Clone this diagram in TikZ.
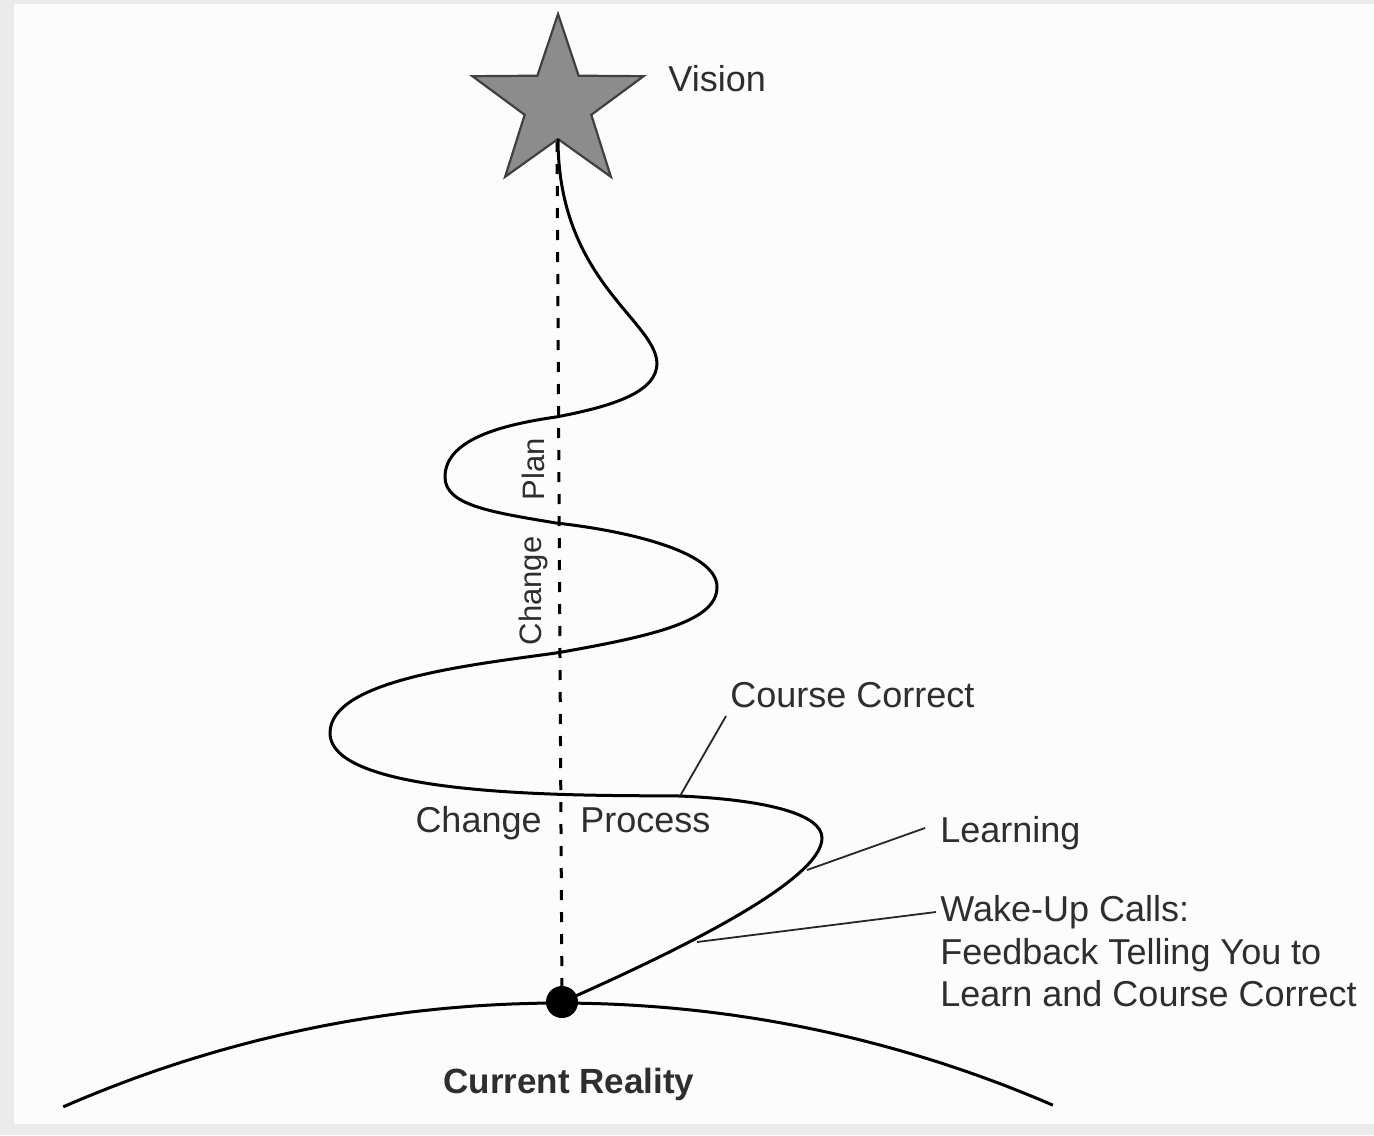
\documentclass[tikz,border=0pt]{standalone}
\usepackage{fontspec}
\setmainfont{Liberation Sans}
\definecolor{pagegray}{HTML}{EBEBEB}
\definecolor{paper}{HTML}{FCFCFD}
\definecolor{inkt}{HTML}{2E2E2E}
\definecolor{stargray}{HTML}{8C8C8C}
\begin{document}
\begin{tikzpicture}[x=0.5pt,y=-0.5pt,
  lbl/.style={inner sep=0pt,text=inkt,font=\fontsize{18}{21}\selectfont},
  vlbl/.style={inner sep=0pt,text=inkt,font=\fontsize{15.5}{18}\selectfont,rotate=90},
  curve/.style={line width=1.5pt,black,line join=round},
  leader/.style={line width=0.9pt,black!85},
  guide/.style={line width=1.5pt,black,dash pattern=on 5pt off 6pt}]
\useasboundingbox (0,0) rectangle (1374,1135);
\fill[pagegray] (0,0) rectangle (1374,1135);
\fill[paper] (14,4) rectangle (1374,1124);
% horizon
\draw[curve] plot[domain=-23.6:23.4,samples=80] ({560+1241*sin(\x)},{2244-1241*cos(\x)});
% star
\draw[fill=stargray,draw=black!75,line width=1.1pt,line join=miter]
  (558,14) -- (578.6,75.7) -- (643.6,76.2) -- (591.3,114.8) -- (610.9,176.8)
  -- (558,139) -- (505.1,176.8) -- (524.7,114.8) -- (472.4,76.2) -- (537.4,75.7) -- cycle;
\coordinate (startop) at (558,139);
\coordinate (guidetop) at (557,142);
% current reality dot
\node[circle,fill=black,minimum size=16pt,inner sep=0pt] (dot) at (562,1002) {};
% dashed guide
\draw[guide] (guidetop) -- (dot.center);
% path
\draw[curve] (dot.center) .. controls (680,950) and (822,880) .. (822,838)
  .. controls (822,815) and (770,800) .. (680,796)
  .. controls (600,795) and (330,800) .. (330,733)
  .. controls (330,680) and (470,665) .. (556,653)
  .. controls (660,635) and (717,620) .. (717,587)
  .. controls (717,550) and (620,530) .. (556,523)
  .. controls (490,512) and (445,505) .. (445,477)
  .. controls (445,440) and (500,425) .. (556,417)
  .. controls (620,405) and (657,390) .. (657,363)
  .. controls (655,320) and (558,280) .. (startop);
% labels
\node[lbl,anchor=base west] (vision) at (668,91) {Vision};
\node[lbl,anchor=base west] (course) at (730,707) {Course Correct};
\node[lbl,anchor=base east] (chg) at (542,832) {Change};
\node[lbl,anchor=base west] (proc) at (580,832) {Process};
\node[lbl,anchor=base west] (learning) at (940,842) {Learning};
\node[lbl,anchor=north west,align=left,font=\fontsize{18}{21.3}\selectfont] (wake) at (940,895)
  {Wake-Up Calls:\\Feedback Telling You to\\Learn and Course Correct};
\node[lbl,anchor=base,font=\bfseries\fontsize{17.5}{20}\selectfont] (reality) at (569,1093) {Current Reality};
\node[vlbl] (vchange) at (533,591) {Change};
\node[vlbl] (vplan) at (533,469) {Plan};
% leaders
\coordinate (ccA) at (680,796);
\coordinate (ccB) at (726,716);
\coordinate (lnA) at (807,870);
\coordinate (lnB) at (925,828);
\coordinate (wuA) at (697,942);
\coordinate (wuB) at (936,912);
\draw[leader] (ccA) -- (ccB);
\draw[leader] (lnA) -- (lnB);
\draw[leader] (wuA) -- (wuB);
\end{tikzpicture}
\end{document}
